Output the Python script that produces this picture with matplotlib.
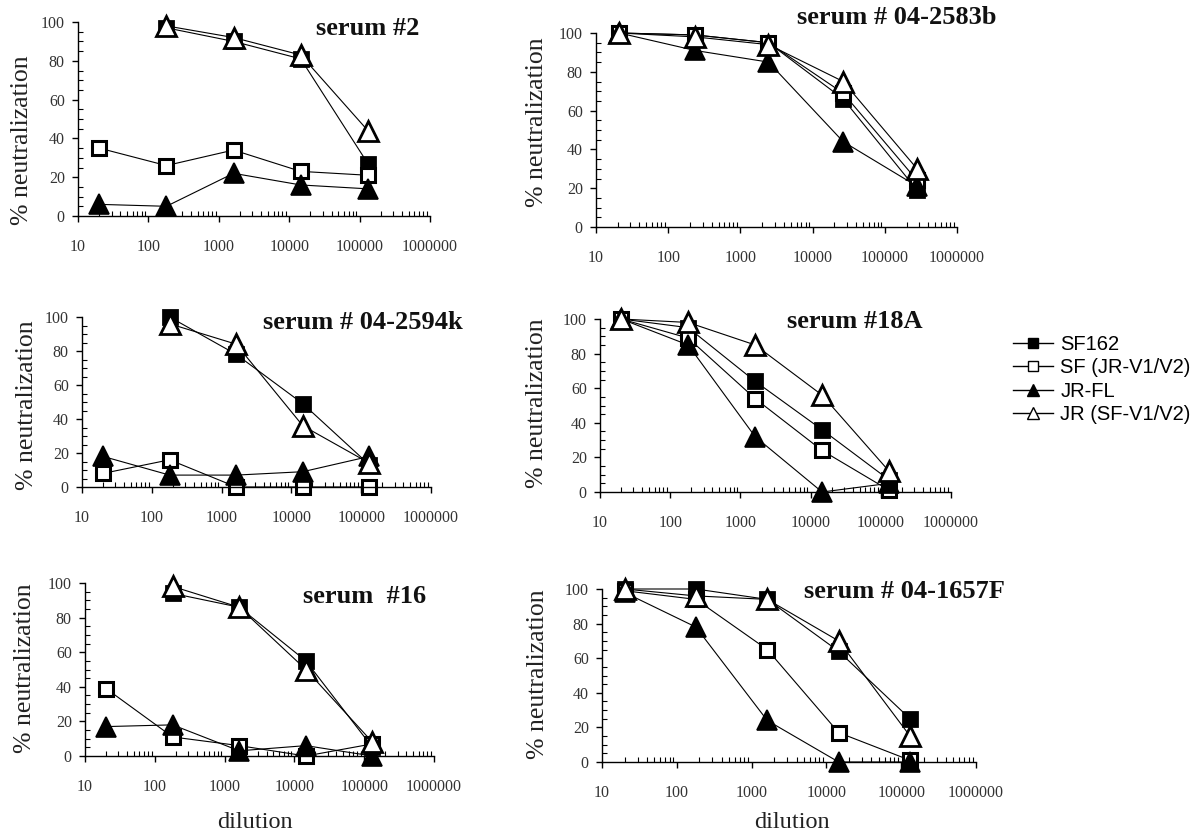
import matplotlib
matplotlib.use("Agg")
import matplotlib.pyplot as plt
from matplotlib.lines import Line2D
from matplotlib.ticker import LogLocator, MultipleLocator, FixedLocator, NullFormatter

# ---------------- data ----------------
series_names = ["SF162", "SF (JR-V1/V2)", "JR-FL", "JR (SF-V1/V2)"]

dil_std = [20, 180, 1620, 14580, 131220]
dil_2583 = [21, 235, 2450, 26500, 280000]

# serum #2
s2_sf162 = [None, 97, 90, 81, 27]
s2_sfjr = [35, 26, 34, 23, 21]
s2_jrfl = [6, 5, 22, 16, 14]
s2_jrsf = [None, 98, 92, 83, 44]

# serum # 04-2583b
s2583_sf162 = [100, 99, 95, 66, 19]
s2583_sfjr = [100, 99, 95, 69, 24]
s2583_jrfl = [100, 91, 85, 44, 21]
s2583_jrsf = [100, 98, 94, 75, 30]

# serum # 04-2594k
s2594_sf162 = [None, 100, 78, 49, 13]
s2594_sfjr = [8, 16, 0, 0, 0]
s2594_jrfl = [18, 7, 7, 9, 18]
s2594_jrsf = [None, 96, 84, 36, 14]

# serum #18A
s18_sf162 = [100, 95, 64, 36, 7]
s18_sfjr = [100, 89, 54, 24, 1]
s18_jrfl = [100, 85, 32, 0, 5]
s18_jrsf = [100, 98, 85, 56, 12]

# serum #16
s16_sf162 = [None, 94, 86, 55, 5]
s16_sfjr = [39, 11, 6, 0, 7]
s16_jrfl = [17, 18, 3, 6, 0]
s16_jrsf = [None, 98, 86, 50, 8]

# serum # 04-1657F
s1657_sf162 = [100, 100, 94, 64, 25]
s1657_sfjr = [99, 94, 65, 17, 1]
s1657_jrfl = [98, 78, 24, 0, 0]
s1657_jrsf = [100, 96, 94, 70, 15]

titles = ["serum #2", "serum # 04-2583b", "serum # 04-2594k",
          "serum #18A", "serum  #16", "serum # 04-1657F"]
x_ticks = [10, 100, 1000, 10000, 100000, 1000000]
x_tick_labels = ["10", "100", "1000", "10000", "100000", "1000000"]
y_ticks = [0, 20, 40, 60, 80, 100]

panels = [
    (dil_std, [s2_sf162, s2_sfjr, s2_jrfl, s2_jrsf]),
    (dil_2583, [s2583_sf162, s2583_sfjr, s2583_jrfl, s2583_jrsf]),
    (dil_std, [s2594_sf162, s2594_sfjr, s2594_jrfl, s2594_jrsf]),
    (dil_std, [s18_sf162, s18_sfjr, s18_jrfl, s18_jrsf]),
    (dil_std, [s16_sf162, s16_sfjr, s16_jrfl, s16_jrsf]),
    (dil_std, [s1657_sf162, s1657_sfjr, s1657_jrfl, s1657_jrsf]),
]

# ---------------- layout ----------------
W, H = 1195, 833
fig = plt.figure(figsize=(W / 100, H / 100), dpi=100)
fig.patch.set_facecolor("white")

# axes boxes in pixels: left, right, top, bottom
boxes = [
    (78, 430, 22, 216),
    (596, 957, 33, 227),
    (82, 431, 317, 487),
    (600, 951, 319, 492),
    (85, 434, 583, 756),
    (602, 976, 589, 762),
]
title_pos = [(316, 35), (797, 24), (263, 329), (787, 328), (303, 603), (804, 598)]
ylabel_pos = [(22, 140), (537, 122), (27, 405), (537, 403), (25, 668), (538, 674)]

serif = "Liberation Serif"
sans = "Liberation Sans"
tick_color = "#333333"

styles = [
    dict(marker="s", ms=10.5, mfc="black", mec="black", mew=2.0),
    dict(marker="s", ms=10.5, mfc="white", mec="black", mew=2.2),
    dict(marker="^", ms=14.5, mfc="black", mec="black", mew=1.2),
    dict(marker="^", ms=14.5, mfc="white", mec="black", mew=2.0),
]


def px2fig(x, y):
    return x / W, 1 - y / H


for i, ((l, r, t, b), (xs, ys_list)) in enumerate(zip(boxes, panels)):
    ax = fig.add_axes([l / W, 1 - b / H, (r - l) / W, (b - t) / H])
    ax.set_xscale("log")
    for ys, st in zip(ys_list, styles):
        pts = [(x, y) for x, y in zip(xs, ys) if y is not None]
        ax.plot([p[0] for p in pts], [p[1] for p in pts], color="black",
                lw=0.8, clip_on=False, **st)
    ax.set_xlim(10, 1000000)
    ax.set_ylim(0, 100)
    for sp in ("top", "right"):
        ax.spines[sp].set_visible(False)
    for sp in ("left", "bottom"):
        ax.spines[sp].set_linewidth(1.0)
    ax.xaxis.set_major_locator(FixedLocator(x_ticks))
    ax.set_xticklabels(x_tick_labels)
    ax.xaxis.set_minor_locator(LogLocator(base=10, subs=range(2, 10), numticks=20))
    ax.xaxis.set_minor_formatter(NullFormatter())
    ax.set_yticks(y_ticks)
    ax.yaxis.set_minor_locator(MultipleLocator(5))
    ax.tick_params(axis="both", which="major", direction="out", length=4.5,
                   width=1.0, labelsize=11.5, labelcolor=tick_color)
    ax.tick_params(axis="both", which="minor", direction="in", length=3.5, width=0.8)
    ax.tick_params(axis="x", which="major", pad=12)
    ax.tick_params(axis="y", which="major", pad=5)
    for lab in ax.get_xticklabels() + ax.get_yticklabels():
        lab.set_fontfamily(serif)
    ax.set_facecolor("none")

    tx, ty = title_pos[i]
    fig.text(*px2fig(tx, ty), titles[i], fontfamily=serif, fontweight="bold",
             fontsize=19, ha="left", va="baseline", color="#111111")
    lx, ly = ylabel_pos[i]
    fig.text(*px2fig(lx, ly), "% neutralization", fontfamily=serif, fontsize=18.5,
             rotation=90, ha="center", va="center", color="#222222")

for cx in (255, 792):
    fig.text(*px2fig(cx, 828), "dilution", fontfamily=serif, fontsize=17.5,
             ha="center", va="baseline", color="#222222")

handles = [
    Line2D([], [], color="black", lw=1.0, marker=st["marker"],
           ms=7 if st["marker"] == "s" else 9, mfc=st["mfc"], mec="black", mew=1.0)
    for st in styles
]
fig.legend(handles, series_names, loc="upper left",
           bbox_to_anchor=px2fig(1013, 335), frameon=False, borderpad=0,
           borderaxespad=0, handlelength=2.0, handletextpad=0.35,
           labelspacing=0.22, prop=dict(family=sans, size=14.5))

fig.savefig("out.png", dpi=100, facecolor="white")
